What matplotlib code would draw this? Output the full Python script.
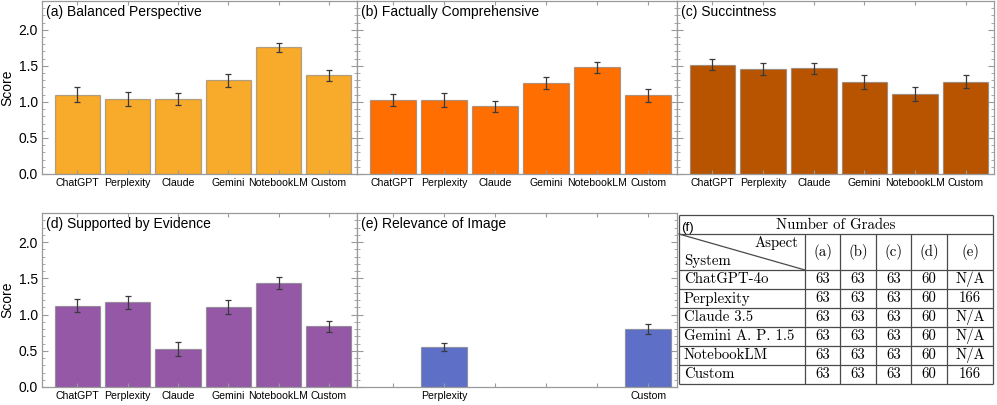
import numpy as np
import matplotlib
matplotlib.use("Agg")
import matplotlib.pyplot as plt
from matplotlib.ticker import MultipleLocator, FormatStrFormatter

plt.rcParams['font.family'] = ['Liberation Sans', 'DejaVu Sans']

# data
systems = ["ChatGPT", "Perplexity", "Claude", "Gemini", "NotebookLM", "Custom"]

a_vals = [1.10, 1.04, 1.04, 1.30, 1.755, 1.37]
a_err = [0.105, 0.10, 0.077, 0.088, 0.063, 0.079]
b_vals = [1.02, 1.02, 0.94, 1.265, 1.48, 1.09]
b_err = [0.083, 0.097, 0.079, 0.079, 0.074, 0.088]
c_vals = [1.515, 1.455, 1.47, 1.28, 1.115, 1.28]
c_err = [0.079, 0.083, 0.076, 0.095, 0.097, 0.093]
d_vals = [1.12, 1.168, 0.524, 1.103, 1.434, 0.837]
d_err = [0.09, 0.09, 0.092, 0.092, 0.078, 0.076]
e_systems = ["Perplexity", "Custom"]
e_vals = [0.547, 0.80]
e_err = [0.055, 0.064]

titles = ["(a) Balanced Perspective", "(b) Factually Comprehensive", "(c) Succintness",
          "(d) Supported by Evidence", "(e) Relevance of Image"]
colors = ["#f8aa2a", "#ff6e00", "#b85400", "#9458a7", "#5e6fc8"]

# table (f)
table_rows = ["ChatGPT-4o", "Perplexity", "Claude 3.5", "Gemini A. P. 1.5", "NotebookLM", "Custom"]
table_cols = ["(a)", "(b)", "(c)", "(d)", "(e)"]
grades_a = [63, 63, 63, 63, 63, 63]
grades_b = [63, 63, 63, 63, 63, 63]
grades_c = [63, 63, 63, 63, 63, 63]
grades_d = [60, 60, 60, 60, 60, 60]
grades_e = ["N/A", "166", "N/A", "N/A", "N/A", "166"]

W, H = 997, 405
fig = plt.figure(figsize=(W / 100, H / 100), dpi=100)


def px_axes(x0, x1, ytop, ybot):
    return fig.add_axes([x0 / W, 1 - ybot / H, (x1 - x0) / W, (ybot - ytop) / H])


frame = "#9a9a9a"


def style(ax, labels, left_labels):
    for s in ax.spines.values():
        s.set_color(frame)
        s.set_linewidth(0.9)
    ax.set_xlim(-0.7, 5.56)
    ax.set_ylim(0, 2.4)
    ax.yaxis.set_major_locator(MultipleLocator(0.5))
    ax.yaxis.set_minor_locator(MultipleLocator(0.1))
    ax.yaxis.set_major_formatter(FormatStrFormatter('%.1f'))
    ax.tick_params(axis='y', which='both', direction='in', left=True, right=True,
                   color=frame, labelsize=10, pad=3, labelleft=left_labels)
    ax.tick_params(axis='y', which='major', length=4, width=0.8)
    ax.tick_params(axis='y', which='minor', length=2, width=0.6)
    ax.set_xticks(range(len(systems)))
    ax.set_xticklabels(labels)
    ax.tick_params(axis='x', which='both', direction='in', top=True, bottom=True,
                   color=frame, length=3, width=0.8, labelsize=7.6, pad=3)
    if left_labels:
        ax.set_ylabel("Score", fontsize=10, labelpad=3)


def bars(ax, x, vals, err, color):
    ax.bar(x, vals, width=0.9, color=color, edgecolor=(0.45, 0.45, 0.45, 0.55), linewidth=0.9)
    ax.errorbar(x, vals, yerr=err, fmt='none', ecolor='#3a3a3a', elinewidth=0.9,
                capsize=2.3, capthick=0.9)


panels = [
    (42, 357, 1, 174, a_vals, a_err, True),
    (357, 677, 1, 174, b_vals, b_err, False),
    (677, 994, 1, 174, c_vals, c_err, False),
    (42, 357, 213, 387, d_vals, d_err, True),
]
for i, (x0, x1, yt, yb, vals, err, lab) in enumerate(panels):
    ax = px_axes(x0, x1, yt, yb)
    bars(ax, np.arange(len(systems)), vals, err, colors[i])
    style(ax, systems, lab)
    ax.text(0.014, 0.975, titles[i], transform=ax.transAxes, ha='left', va='top', fontsize=10)

# panel (e): only two systems have images
ax = px_axes(357, 677, 213, 387)
ex = [systems.index(s) for s in e_systems]
bars(ax, ex, e_vals, e_err, colors[4])
style(ax, [s if s in e_systems else "" for s in systems], False)
ax.text(0.014, 0.975, titles[4], transform=ax.transAxes, ha='left', va='top', fontsize=10)

# table (f)
tx = px_axes(677, 997, 205, 405)
tx.set_xlim(677, 997)
tx.set_ylim(405, 205)
tx.axis('off')
lc = '#4a4a4a'
col_x = [679, 805, 840, 876, 911, 947, 993]
row_y = [215, 234, 270, 289, 308, 327, 346, 365, 384]
tx.hlines(row_y, col_x[0], col_x[-1], color=lc, lw=0.9)
tx.vlines([col_x[0], col_x[-1]], row_y[0], row_y[-1], color=lc, lw=0.9)
tx.vlines(col_x[1:-1], row_y[1], row_y[-1], color=lc, lw=0.9)
tx.plot([col_x[0], col_x[1]], [row_y[1], row_y[2]], color=lc, lw=0.9)

serif = ['cmr10', 'DejaVu Serif']
fs = 10.7
tx.text((col_x[0] + col_x[-1]) / 2, (row_y[0] + row_y[1]) / 2 + 0.5, "Number of Grades",
        ha='center', va='center', family=serif, fontsize=fs)
tx.text(681, row_y[1] - 0.5, "(f)", ha='left', va='bottom', fontsize=9.5)
tx.text(col_x[1] - 6, 243, "Aspect", ha='right', va='center', family=serif, fontsize=fs)
tx.text(col_x[0] + 5, 261, "System", ha='left', va='center', family=serif, fontsize=fs)
for j, c in enumerate(table_cols):
    tx.text((col_x[j + 1] + col_x[j + 2]) / 2, (row_y[1] + row_y[2]) / 2, c,
            ha='center', va='center', family=serif, fontsize=fs)
grade_cols = [grades_a, grades_b, grades_c, grades_d, grades_e]
for i, name in enumerate(table_rows):
    yc = (row_y[i + 2] + row_y[i + 3]) / 2
    tx.text(col_x[0] + 5, yc, name, ha='left', va='center', family=serif, fontsize=fs)
    for j, g in enumerate(grade_cols):
        tx.text((col_x[j + 1] + col_x[j + 2]) / 2, yc, str(g[i]),
                ha='center', va='center', family=serif, fontsize=fs)

fig.savefig("out.png", dpi=100)
